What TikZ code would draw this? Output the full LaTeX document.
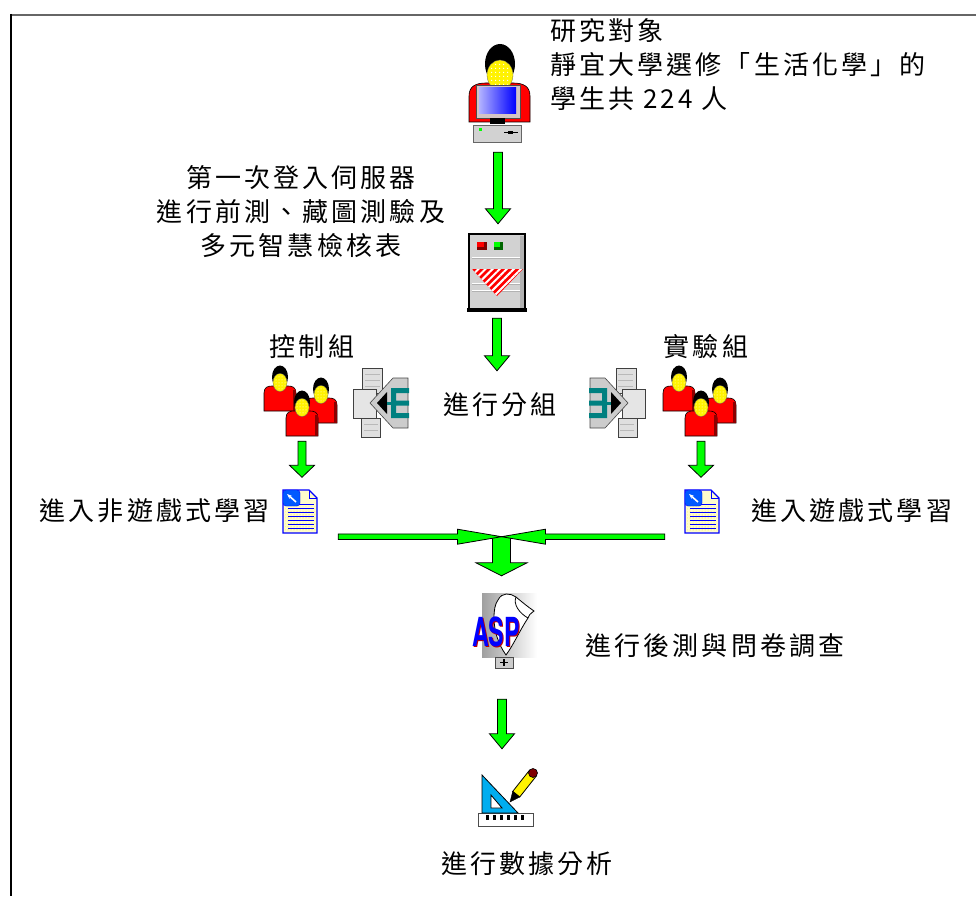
\documentclass[tikz,border=0pt]{standalone}
\usepackage{fontspec}
\usepackage{graphicx}
\newfontfamily\cjk[LetterSpace=12]{Noto Sans CJK TC}
\newfontfamily\aspfont{TeX Gyre Heros}
\usetikzlibrary{positioning,calc,arrows.meta,patterns.meta}

\begin{document}
\begin{tikzpicture}[
    x=1pt, y=-1pt,
    txt/.style={font=\cjk\fontsize{26}{33}\selectfont, inner sep=0pt, text height=22pt, text depth=4pt},
    para/.style={font=\cjk\fontsize{26}{34}\selectfont, inner sep=0pt},
    icon/.style 2 args={inner sep=0pt, minimum width=#1pt, minimum height=#2pt},
    fatdown/.style n args={3}{draw=black, fill=green, line width=0.8pt,
        to path={let \p1=(\tikztostart), \p2=(\tikztotarget) in
            (\x1-#1pt,\y1) -- (\x1+#1pt,\y1) -- (\x1+#1pt,\y2+#3pt) -- (\x1+#2pt,\y2+#3pt)
            -- (\x1,\y2) -- (\x1-#2pt,\y2+#3pt) -- (\x1-#1pt,\y2+#3pt) -- cycle}},
    fatright/.style n args={3}{draw=black, fill=green, line width=0.8pt,
        to path={let \p1=(\tikztostart), \p2=(\tikztotarget) in
            (\x1,\y1-#1pt) -- (\x2-#3pt,\y1-#1pt) -- (\x2-#3pt,\y1-#2pt) -- (\x2,\y1)
            -- (\x2-#3pt,\y1+#2pt) -- (\x2-#3pt,\y1+#1pt) -- (\x1,\y1+#1pt) -- cycle}},
    fatleft/.style n args={3}{draw=black, fill=green, line width=0.8pt,
        to path={let \p1=(\tikztostart), \p2=(\tikztotarget) in
            (\x1,\y1-#1pt) -- (\x2+#3pt,\y1-#1pt) -- (\x2+#3pt,\y1-#2pt) -- (\x2,\y1)
            -- (\x2+#3pt,\y1+#2pt) -- (\x2+#3pt,\y1+#1pt) -- (\x1,\y1+#1pt) -- cycle}},
    % one student, origin at the top of the shoulders
    person/.pic={
        \filldraw[fill=red, draw=black, line width=0.6pt] (-16,25) -- (-16,7) .. controls (-16,1) and (-12,0) .. (-8,0)
            -- (8,0) .. controls (12,0) and (16,1) .. (16,7) -- (16,25) -- cycle;
        \fill[red!55!black] (13,4) rectangle (16,25);
        \fill[black] (0,-9) ellipse[x radius=8, y radius=11.5];
        \filldraw[fill=yellow, draw=black!60, line width=0.3pt] (0,-3.5) ellipse[x radius=7, y radius=9];
        \fill[pattern={Dots[distance=3pt, radius=0.5pt]}, pattern color=white] (0,-3.5) ellipse[x radius=6, y radius=7.5];
    },
    crowd/.pic={
        \pic at (-22,-15) {person};
        \pic at (19,-3) {person};
        \pic at (0,10) {person};
    },
    pcuser/.pic={
        \filldraw[fill=red, draw=black, line width=0.6pt] (-29,30) -- (-29,4) .. controls (-29,-6) and (-22,-9) .. (-12,-9)
            -- (15,-9) .. controls (25,-9) and (32,-6) .. (32,4) -- (32,30) -- cycle;
        \fill[black] (2,-28) ellipse[x radius=15, y radius=20];
        \filldraw[fill=yellow, draw=black!60, line width=0.3pt] (2,-17) ellipse[x radius=13, y radius=15];
        \fill[pattern={Dots[distance=4pt, radius=0.8pt]}, pattern color=white] (2,-17) ellipse[x radius=11.5, y radius=13];
        \filldraw[fill=red!15!gray!40, draw=black!70, line width=0.8pt] (-22,-7) rectangle (22,26);
        \shade[left color=white!70!blue, right color=blue] (-19,-4) rectangle (18,22);
        \fill[black] (-8,26) rectangle (7,32);
        \filldraw[fill=gray!35, draw=black!60, line width=0.8pt] (-25,33) rectangle (23,50);
        \fill[green] (-19,36) rectangle (-16,39);
        \draw[black, line width=1.2pt] (6,40.5) -- (20,40.5);
        \fill[black] (10,39) rectangle (15,42);
    },
    server/.pic={
        \fill[black] (-30,36) rectangle (30,40);
        \filldraw[fill=gray!35, draw=black, line width=1.4pt] (-28,-38) rectangle (28,37);
        \fill[gray!60] (23,-36) rectangle (27,36);
        \fill[red!50!black] (-20,-30) rectangle (-10,-22);
        \fill[red] (-20,-30) rectangle (-13,-25);
        \fill[green!40!black] (-3,-30) rectangle (6,-22);
        \fill[green] (-3,-30) rectangle (3,-25);
        \draw[white, line width=1pt] (-25,-15) -- (23,-15) (-25,11) -- (23,11) (-25,18) -- (23,18);
        \draw[gray!60, line width=0.8pt] (-25,-14) -- (23,-14) (-25,12) -- (23,12) (-25,19) -- (23,19);
        \fill[red] (-25,-3) -- (26,-3) -- (0,24) -- cycle;
        \fill[pattern={Lines[angle=45, distance=5pt, line width=2pt]}, pattern color=white] (-25,-3) -- (26,-3) -- (0,24) -- cycle;
    },
    % stacked pages with the arrow pointing left
    netbox/.pic={
        \filldraw[fill=gray!25, draw=gray!50!black, line width=0.6pt] (-18,-34) rectangle (2,-9);
        \filldraw[fill=gray!25, draw=gray!50!black, line width=0.6pt] (-19,16) rectangle (0,35);
        \filldraw[fill=gray!20, draw=gray!50!black, line width=0.6pt] (-27,-13) rectangle (-4,16);
        \foreach \ly in {-28,-22,-16} \draw[gray!55] (-15,\ly) -- (0,\ly);
        \foreach \ly in {22,28} \draw[gray!55] (-16,\ly) -- (-2,\ly);
        \filldraw[fill=gray!40, draw=gray!55!black, line width=0.6pt] (28,-24) -- (13,-24) -- (-10,1) -- (13,26) -- (28,26) -- cycle;
        \fill[black] (-3,1) -- (7,-10) -- (7,12) -- cycle;
        \draw[teal, line width=3pt] (7,1) -- (13,1);
        \fill[teal] (11,-14) rectangle (16,16) (16,-14) rectangle (29,-9) (16,-1.5) rectangle (29,3.5) (16,11) rectangle (29,16);
    },
    doc/.pic={
        \filldraw[fill=yellow!20, draw=blue, line width=1.2pt] (-17,-21) -- (9,-21) -- (17,-13) -- (17,22) -- (-17,22) -- cycle;
        \fill[pattern={Dots[distance=3pt, radius=0.5pt]}, pattern color=yellow!85!orange] (-15,-5) rectangle (15,20);
        \foreach \ly in {-7,-3,...,18} \draw[blue, line width=0.8pt] (-12,\ly) -- (14,\ly);
        \draw[blue, line width=0.8pt] (9,-21) -- (9,-13) -- (17,-13);
        \filldraw[fill=blue!65!cyan, draw=blue, rounded corners=3pt] (-17,-21) rectangle (0,-5);
        \draw[white, line width=1.6pt, -{Stealth[length=5pt]}] (-4,-9) -- (-13,-17);
    },
    aspicon/.pic={
        \shade[left color=gray!75, right color=white] (-22,-37) rectangle (33,27);
        \filldraw[fill=white, draw=black, line width=0.8pt] (-6,-30) .. controls (-2,-38) and (6,-37) .. (12,-33)
            .. controls (18,-28) and (24,-23) .. (30,-19) .. controls (26,-16) and (24,-14) .. (24,-12)
            .. controls (16,0) and (10,14) .. (2,25) .. controls (-6,14) and (-10,0) .. (-10,-12)
            .. controls (-10,-20) and (-9,-26) .. (-6,-30) -- cycle;
        \draw[line width=0.8pt] (12,-33) .. controls (9,-26) and (15,-17) .. (24,-12);
        \node[text=red!75!black, font=\aspfont\bfseries\fontsize{40}{40}\selectfont, inner sep=0pt] at (-7,3) {\scalebox{0.58}[1]{ASP}};
        \node[text=blue, font=\aspfont\bfseries\fontsize{40}{40}\selectfont, inner sep=0pt] at (-8,2) {\scalebox{0.58}[1]{ASP}};
        \filldraw[fill=gray!40, draw=black!70, line width=0.6pt] (-9,27) rectangle (9,38);
        \draw[line width=1.2pt] (-4,32.5) -- (4,32.5) (0,29) -- (0,36);
    },
    drafting/.pic={
        \filldraw[fill=white, draw=gray!60!black, line width=1pt] (-28,15) rectangle (27,28);
        \foreach \tx in {-20,-13,...,15} \fill[black] (\tx,17) rectangle (\tx+3,22);
        \filldraw[fill=cyan, draw=black, line width=0.8pt] (-24,-23) -- (-24,15) -- (12,15) -- cycle;
        \filldraw[fill=white, draw=black, line width=0.8pt] (-15,-3) -- (-15,10) -- (-4,10) -- cycle;
        \filldraw[fill=yellow, draw=black, line width=0.8pt] (13.7,-1) -- (30.5,-22.2) -- (23.5,-27.8) -- (6.7,-6.6) -- cycle;
        \filldraw[fill=black] (4,4) -- (13.7,-1) -- (6.7,-6.6) -- cycle;
        \filldraw[fill=red!50!black, draw=black, line width=0.6pt] (27,-25) circle[radius=4.5];
    }
]

\useasboundingbox (0,0) rectangle (976,896);

% Frame
\draw[black!60, line width=2pt] (10,15) -- (976,15);
\draw[black, line width=2pt] (11,14) -- (11,896);

% Subjects and first login
\node[icon={64}{100}] (pc) at (498,92) {};
\pic at (pc) {pcuser};
\node[para, anchor=north west, align=left] (subjects) at (550,18) {研究對象\\靜宜大學選修「生活化學」的\\學生共 224 人};
\node[para, align=center] (login) at (301,212) {第一次登入伺服器\\進行前測、藏圖測驗及\\多元智慧檢核表};
\node[icon={60}{78}] (server) at (497,272) {};
\pic at (server) {server};

% Grouping
\node[txt] (grouping) at (500,405) {進行分組};
\node[icon={76}{72}] (ctrl) at (302,401) {};
\pic at (ctrl) {crowd};
\node[icon={76}{72}] (exp) at (701,401) {};
\pic at (exp) {crowd};
\node[icon={56}{70}] (ctrlnet) at (380,402) {};
\pic at (ctrlnet) {netbox};
\node[icon={56}{70}] (expnet) at (618,402) {};
\pic[xscale=-1] at (expnet) {netbox};
\node[txt] (ctrllabel) at (312,347) {控制組};
\node[txt] (explabel) at (706,347) {實驗組};

% Learning
\node[icon={34}{43}] (ctrldoc) at (300,511) {};
\pic at (ctrldoc) {doc};
\node[icon={34}{43}] (expdoc) at (702,511) {};
\pic at (expdoc) {doc};
\node[txt, left=13pt of ctrldoc] (ctrltext) {進入非遊戲式學習};
\node[txt, right=32pt of expdoc] (exptext) {進入遊戲式學習};
\coordinate (merge) at (501.5,536.5);

% Post-test and analysis
\node[icon={72}{76}] (asp) at (502,630) {};
\pic at ($(asp)+(2,0)$) {aspicon};
\node[txt] (posttest) at (715,646) {進行後測與問卷調查};
\node[icon={58}{58}] (ruler) at (506,798) {};
\pic at (ruler) {drafting};
\node[txt] (analysis) at (527,864) {進行數據分析};

% Arrows
\draw[fatdown={4.5}{12.5}{15}] ($(pc.south)+(0,10)$) to ($(server.north)+(0,-9)$);
\draw[fatdown={4.5}{12.5}{15}] ($(server.south)+(0,7)$) to ($(grouping.north)+(0,-21)$);
\draw[fatdown={4}{12.5}{12}] ($(ctrl.south)+(0,4)$) to ($(ctrldoc.north)+(0,-12)$);
\draw[fatdown={4}{12.5}{12}] ($(exp.south)+(0,4)$) to ($(expdoc.north)+(0,-12)$);
\draw[fatdown={9}{25.5}{13}] (merge) to ($(asp.north)+(0,-16)$);
\draw[fatright={2.75}{7.5}{44}] ($(ctrldoc.south east)+(21,4)$) to (merge);
\draw[fatleft={2.75}{7.5}{44}] ($(expdoc.south west)+(-20,4)$) to (merge);
\draw[fatdown={4.5}{12.5}{15}] ($(asp.south)+(0,31)$) to ($(ruler.north)+(0,-20)$);

\end{tikzpicture}
\end{document}
